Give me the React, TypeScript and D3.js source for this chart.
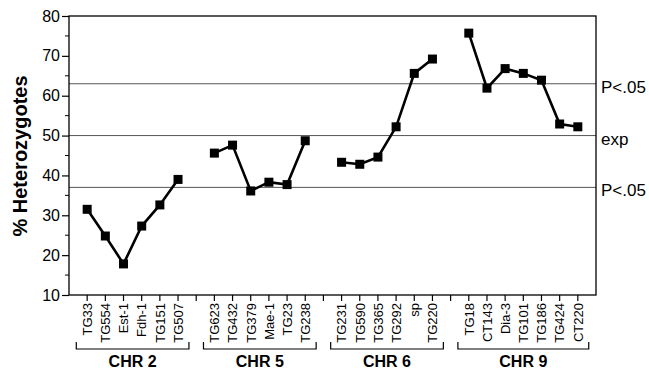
import React, { useEffect, useRef } from 'react';
import * as d3 from 'd3';

// marker names and % heterozygotes per chromosome
const chr2Markers = ['TG33', 'TG554', 'Est-1', 'Fdh-1', 'TG151', 'TG507'];
const chr2Values = [31.5, 24.8, 17.8, 27.3, 32.6, 39.0];
const chr5Markers = ['TG623', 'TG432', 'TG379', 'Mae-1', 'TG23', 'TG238'];
const chr5Values = [45.6, 47.6, 36.1, 38.3, 37.7, 48.7];
const chr6Markers = ['TG231', 'TG590', 'TG365', 'TG292', 'sp', 'TG220'];
const chr6Values = [43.3, 42.8, 44.6, 52.2, 65.6, 69.2];
const chr9Markers = ['TG18', 'CT143', 'Dia-3', 'TG101', 'TG186', 'TG424', 'CT220'];
const chr9Values = [75.7, 61.9, 66.8, 65.6, 63.9, 52.9, 52.2];
const groupNames = ['CHR 2', 'CHR 5', 'CHR 6', 'CHR 9'];

const refValues = [63, 50, 37];
const refLabels = ['P<.05', 'exp', 'P<.05'];
const yTicks = [10, 20, 30, 40, 50, 60, 70, 80];

const font = 'Liberation Sans, Arial, Helvetica, sans-serif';

const App = () => {
  const ref = useRef<SVGSVGElement>(null);

  useEffect(() => {
    const svg = d3.select(ref.current);
    svg.selectAll('*').remove();

    // lay markers out on slots, one empty slot between chromosomes
    const groups: { name: string; pts: { name: string; value: number; slot: number }[] }[] = [];
    const all = [
      [chr2Markers, chr2Values],
      [chr5Markers, chr5Values],
      [chr6Markers, chr6Values],
      [chr9Markers, chr9Values],
    ] as [string[], number[]][];
    let slot = 0;
    all.forEach(([names, vals], gi) => {
      const pts = names.map((n, i) => ({ name: n, value: vals[i], slot: slot + i }));
      groups.push({ name: groupNames[gi], pts });
      slot += names.length + 1;
    });
    const lastSlot = slot - 2;

    const x = d3.scaleLinear().domain([-1, lastSlot + 1]).range([69, 596]);
    const y = d3.scaleLinear().domain([10, 80]).range([295, 16]);

    // reference lines
    svg.selectAll('.ref')
      .data(refValues)
      .enter()
      .append('line')
      .attr('x1', x(-1))
      .attr('x2', x(lastSlot + 1))
      .attr('y1', d => y(d))
      .attr('y2', d => y(d))
      .attr('stroke', '#555')
      .attr('stroke-width', 1);

    svg.selectAll('.refLabel')
      .data(refValues)
      .enter()
      .append('text')
      .attr('x', x(lastSlot + 1) + 5)
      .attr('y', d => y(d) + 9)
      .attr('font-family', font)
      .attr('font-size', 17)
      .text((d, i) => refLabels[i]);

    // frame
    svg.append('rect')
      .attr('x', x(-1))
      .attr('y', y(80))
      .attr('width', x(lastSlot + 1) - x(-1))
      .attr('height', y(10) - y(80))
      .attr('fill', 'none')
      .attr('stroke', '#000')
      .attr('stroke-width', 1.3);

    // y axis
    const yAxis = d3.axisLeft(y).tickValues(yTicks).tickSize(7).tickPadding(2);
    const yg = svg.append('g').attr('transform', 'translate(' + x(-1) + ',0)').call(yAxis);
    yg.select('.domain').remove();
    yg.selectAll('text').attr('font-family', font).attr('font-size', 16).attr('fill', '#000');
    yg.selectAll('line').attr('stroke-width', 1.2);
    svg.selectAll('.minor')
      .data(d3.range(15, 80, 10))
      .enter()
      .append('line')
      .attr('x1', x(-1) - 4)
      .attr('x2', x(-1))
      .attr('y1', d => y(d))
      .attr('y2', d => y(d))
      .attr('stroke', '#000');

    svg.append('text')
      .attr('transform', 'translate(27,156) rotate(-90)')
      .attr('text-anchor', 'middle')
      .attr('font-family', font)
      .attr('font-weight', 'bold')
      .attr('font-size', 20)
      .text('% Heterozygotes');

    // x ticks at every slot
    const xg = svg.append('g');
    xg.selectAll('line')
      .data(d3.range(0, lastSlot + 1))
      .enter()
      .append('line')
      .attr('x1', d => x(d))
      .attr('x2', d => x(d))
      .attr('y1', y(10))
      .attr('y2', y(10) + 6)
      .attr('stroke', '#000')
      .attr('stroke-width', 1.2);

    const pts = groups.flatMap(g => g.pts);
    xg.selectAll('text')
      .data(pts)
      .enter()
      .append('text')
      .attr('transform', d => 'translate(' + (x(d.slot) + 4.8) + ',' + (y(10) + 8) + ') rotate(-90)')
      .attr('text-anchor', 'end')
      .attr('font-family', font)
      .attr('font-size', 13)
      .text(d => d.name);

    // brackets and group names
    groups.forEach(g => {
      const x0 = x(g.pts[0].slot - 0.6);
      const x1 = x(g.pts[g.pts.length - 1].slot + 0.6);
      svg.append('path')
        .attr('d', 'M' + x0 + ',342V349H' + x1 + 'V342')
        .attr('fill', 'none')
        .attr('stroke', '#000')
        .attr('stroke-width', 1.2);
      svg.append('text')
        .attr('x', (x0 + x1) / 2)
        .attr('y', 367)
        .attr('text-anchor', 'middle')
        .attr('font-family', font)
        .attr('font-weight', 'bold')
        .attr('font-size', 16)
        .text(g.name);
    });

    // data lines and square markers
    const line = d3.line<{ slot: number; value: number }>()
      .x(d => x(d.slot))
      .y(d => y(d.value));

    groups.forEach(g => {
      svg.append('path')
        .datum(g.pts)
        .attr('d', line)
        .attr('fill', 'none')
        .attr('stroke', '#000')
        .attr('stroke-width', 2.6);
      svg.selectAll(null)
        .data(g.pts)
        .enter()
        .append('rect')
        .attr('x', d => x(d.slot) - 4.5)
        .attr('y', d => y(d.value) - 4.5)
        .attr('width', 9)
        .attr('height', 9)
        .attr('fill', '#000');
    });
  }, []);

  return (
    <svg ref={ref} width={649} height={371} style={{ position: 'absolute', left: 0, top: 0, background: '#fff' }} />
  );
};

export default App;
